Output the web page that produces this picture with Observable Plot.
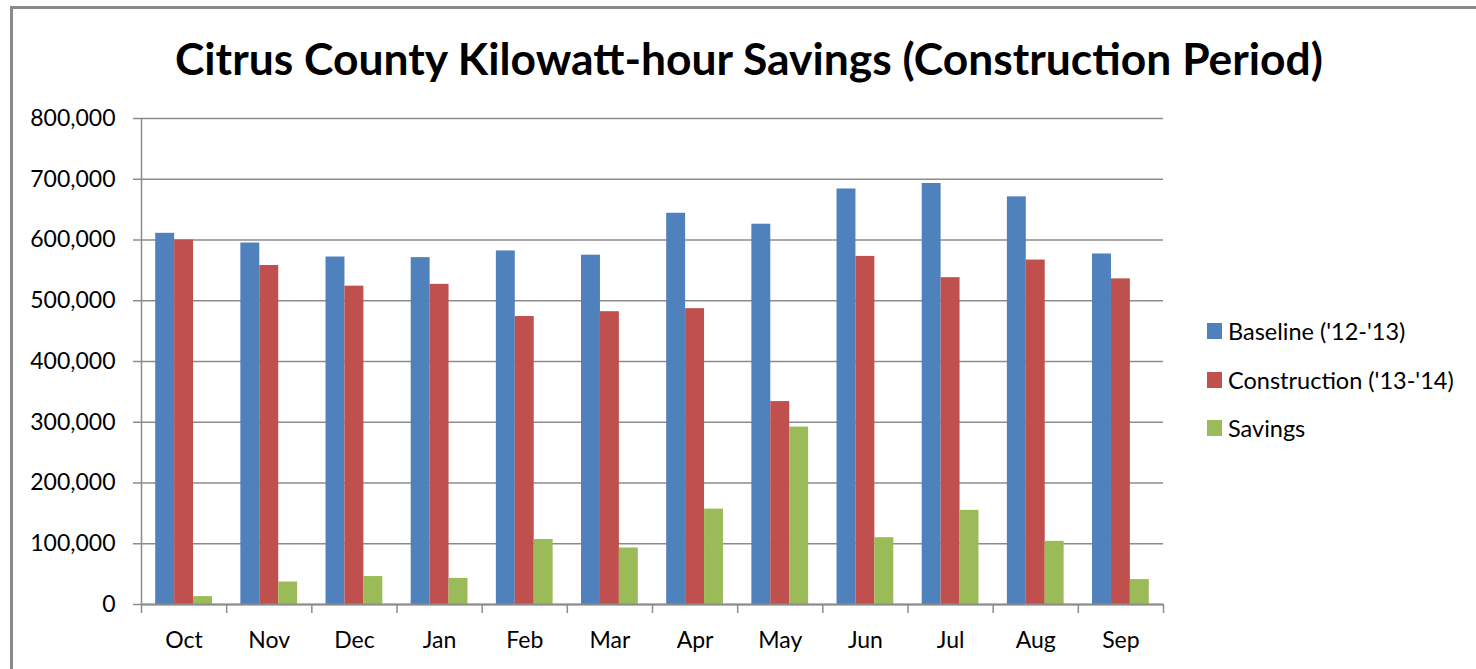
<!DOCTYPE html>
<html><head><meta charset="utf-8">
<script src="https://cdn.jsdelivr.net/npm/d3@7"></script>
<script src="https://cdn.jsdelivr.net/npm/@observablehq/plot@0.6"></script>
<style>
body{margin:0;background:#fff;font-family:Lato,"Open Sans",sans-serif;}
#wrap{position:relative;width:1476px;height:669px;overflow:hidden;background:#fff;}
#frame{position:absolute;left:10px;top:6px;width:1500px;height:700px;border-left:3px solid #8a8a8a;border-top:3px solid #8a8a8a;}
#title{position:absolute;left:0;width:1498px;top:28px;text-align:center;font-weight:bold;font-size:44.4px;line-height:60px;white-space:nowrap;color:#000;}
#chart{position:absolute;left:0;top:90px;}
#legend{position:absolute;left:1207px;top:307px;font-size:23.5px;color:#000;}
.row{display:flex;align-items:center;height:48.5px;}
.sw{width:15px;height:16px;margin-right:6px;}
</style></head>
<body>
<div id="wrap">
  <div id="frame"></div>
  <div id="title">Citrus County Kilowatt-hour Savings (Construction Period)</div>
  <div id="chart"></div>
  <div id="legend"></div>
</div>
<script>
const months = ["Oct","Nov","Dec","Jan","Feb","Mar","Apr","May","Jun","Jul","Aug","Sep"];
const seriesNames = ["Baseline ('12-'13)", "Construction ('13-'14)", "Savings"];
const baseline = [611000, 595000, 572000, 571000, 582000, 575000, 644000, 626000, 684000, 693000, 671000, 577000];
const construction = [600000, 558000, 524000, 527000, 474000, 482000, 487000, 334000, 573000, 538000, 567000, 536000];
const savings = [13000, 37000, 46000, 43000, 107000, 93000, 157000, 292000, 110000, 155000, 104000, 41000];
const yTicks = [0, 100000, 200000, 300000, 400000, 500000, 600000, 700000, 800000];
const colors = ["#4F81BD", "#C0504D", "#9BBB59"];

const rows = [];
[baseline, construction, savings].forEach((arr, k) =>
  arr.forEach((v, i) => rows.push({i, k, month: months[i], series: seriesNames[k], value: v})));

const gapWidth = 1.5; // Excel-style gap width (150%)
const slot = 1 / (seriesNames.length + gapWidth);
const grid = "#8c8c8c";

const chart = Plot.plot({
  width: 1476, height: 579,
  marginLeft: 141, marginRight: 313, marginTop: 28, marginBottom: 65,
  style: {fontFamily: "Lato, 'Open Sans', sans-serif", fontSize: "23px", color: "#000", background: "transparent", overflow: "visible"},
  x: {domain: [0, months.length], axis: null},
  y: {domain: [0, 800000], axis: null},
  color: {domain: seriesNames, range: colors},
  marks: [
    Plot.gridY(yTicks, {stroke: grid, strokeOpacity: 1, strokeWidth: 1.5}),
    Plot.rectY(rows, {
      x1: d => d.i + (gapWidth / 2 + d.k) * slot,
      x2: d => d.i + (gapWidth / 2 + d.k + 1) * slot,
      y1: 0, y2: "value", fill: "series"
    }),
    Plot.ruleX([0], {stroke: grid, strokeWidth: 1.5}),
    Plot.ruleY([0], {stroke: grid, strokeWidth: 2}),
    Plot.axisY(yTicks, {tickSize: 8, tickPadding: 18, stroke: grid, strokeWidth: 1.5, fill: "#000", tickFormat: d3.format(","), fontSize: 23, label: null}),
    Plot.axisX(d3.range(months.length + 1), {tickSize: 9, stroke: grid, strokeWidth: 1.5, tickFormat: () => "", label: null}),
    Plot.text(months, {x: (d, i) => i + 0.5, y: 0, dy: 36, text: d => d, fontSize: 23, fill: "#000", lineAnchor: "middle"})
  ]
});
document.getElementById("chart").appendChild(chart);

const legend = document.getElementById("legend");
seriesNames.forEach((name, k) => {
  const row = document.createElement("div");
  row.className = "row";
  const sw = document.createElement("div");
  sw.className = "sw";
  sw.style.background = colors[k];
  const t = document.createElement("span");
  t.textContent = name;
  row.appendChild(sw); row.appendChild(t);
  legend.appendChild(row);
});
</script>
</body></html>
